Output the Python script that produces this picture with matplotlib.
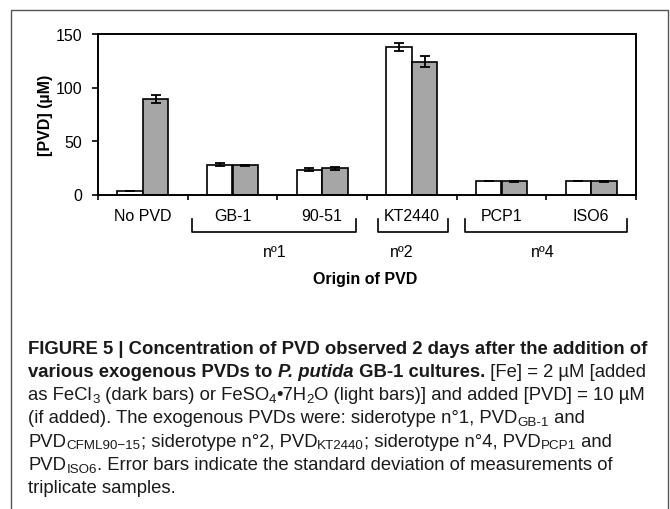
import matplotlib
matplotlib.use("Agg")
import matplotlib.pyplot as plt
import matplotlib.transforms as mtransforms
from matplotlib import font_manager
from matplotlib.lines import Line2D
import numpy as np

# data
categories = ["No PVD", "GB-1", "90-51", "KT2440", "PCP1", "ISO6"]
light_vals = [3.0, 27.8, 23.2, 137.8, 12.3, 12.3]      # FeSO4 (light bars)
light_err = [0.0, 1.3, 1.2, 3.5, 0.0, 0.0]
dark_vals = [89.3, 27.4, 24.6, 124.2, 12.3, 12.3]      # FeCl3 (dark bars)
dark_err = [3.8, 0.5, 1.5, 5.5, 0.3, 0.3]
y_ticks = [0, 50, 100, 150]

# bracket groups: (label, x from, x to, label x) in category units
groups = [("nº1", 0.545, 2.374, 1.47), ("nº2", 2.623, 3.403, 2.89), ("nº4", 3.593, 5.40, 4.46)]

W, H, DPI = 670, 510, 100
installed = {f.name for f in font_manager.fontManager.ttflist}
CHART_FONT = "Liberation Sans"
CAP_FONT = "Liberation Sans Narrow" if "Liberation Sans Narrow" in installed else "Liberation Sans"

fig = plt.figure(figsize=(W / DPI, H / DPI), dpi=DPI)
fig.patch.set_facecolor("white")

# outer frame (open at the bottom)
fx = lambda px: px / W
fy = lambda py: 1 - py / H
fig.add_artist(Line2D([fx(11), fx(11), fx(667.5), fx(667.5)], [fy(515), fy(11), fy(11), fy(515)],
                      transform=fig.transFigure, color="#555555", lw=1.0))

ax = fig.add_axes([fx(98), fy(195.5), (636 - 98) / W, (195.5 - 35) / H])

x = np.arange(len(categories))
bw = 0.285
ax.bar(x - bw / 2, light_vals, bw, color="white", edgecolor="black", linewidth=1.2, zorder=2)
ax.bar(x + bw / 2, dark_vals, bw, color="#a6a6a6", edgecolor="black", linewidth=1.2, zorder=2)
ekw = dict(fmt="none", ecolor="black", elinewidth=1.3, capsize=3.5, capthick=1.3, zorder=3)
ax.errorbar(x - bw / 2, light_vals, yerr=light_err, **ekw)
ax.errorbar(x + bw / 2, dark_vals, yerr=dark_err, **ekw)

ax.set_xlim(-0.5, len(categories) - 0.5)
ax.set_ylim(0, 150)
ax.set_yticks(y_ticks)
ax.set_yticklabels([str(v) for v in y_ticks], fontsize=11.5, family=CHART_FONT)
ax.set_xticks(np.arange(len(categories) + 1) - 0.5)
ax.set_xticklabels([])
ax.tick_params(axis="y", direction="out", length=4.5, width=1.2, pad=7)
ax.tick_params(axis="x", direction="out", length=3.5, width=1.2)
for s in ax.spines.values():
    s.set_linewidth(1.4)

tr = mtransforms.blended_transform_factory(ax.transData, ax.transAxes)
for i, c in enumerate(categories):
    ax.text(i, -0.132, c, transform=tr, ha="center", va="center", fontsize=11.5, family=CHART_FONT)

for lab, x0, x1, xl in groups:
    ax.add_line(Line2D([x0, x0, x1, x1], [-0.153, -0.232, -0.232, -0.153], transform=tr,
                       color="black", lw=1.2, clip_on=False))
    ax.text(xl, -0.358, lab, transform=tr, ha="center", va="center", fontsize=11.5, family=CHART_FONT)

ax.text(2.48, -0.526, "Origin of PVD", transform=tr, ha="center", va="center",
        fontsize=11.5, fontweight="bold", family=CHART_FONT)
ax.set_ylabel("[PVD] (µM)", fontsize=11.5, fontweight="bold", family=CHART_FONT, labelpad=2)

# caption, drawn run by run
styles = {
    "b": dict(fontweight="bold"),
    "bi": dict(fontweight="bold", fontstyle="italic"),
    "r": dict(),
    "s": dict(sub=True),
}
cap_lines = [
    [("FIGURE 5 | Concentration of PVD observed 2 days after the addition of", "b")],
    [("various exogenous PVDs to ", "b"), ("P. putida", "bi"), (" GB-1 cultures.", "b"),
     (" [Fe] = 2 µM [added", "r")],
    [("as FeCl", "r"), ("3", "s"), (" (dark bars) or FeSO", "r"), ("4", "s"), ("•7H", "r"),
     ("2", "s"), ("O (light bars)] and added [PVD] = 10 µM", "r")],
    [("(if added). The exogenous PVDs were: siderotype n°1, PVD", "r"), ("GB-1", "s"), (" and", "r")],
    [("PVD", "r"), ("CFML90−15", "s"), ("; siderotype n°2, PVD", "r"), ("KT2440", "s"),
     ("; siderotype n°4, PVD", "r"), ("PCP1", "s"), (" and", "r")],
    [("PVD", "r"), ("ISO6", "s"), (". Error bars indicate the standard deviation of measurements of", "r")],
    [("triplicate samples.", "r")],
]

renderer = fig.canvas.get_renderer()


def draw_caption(size, x_start=28.5, y_first=349, line_gap=23.3):
    arts, widths = [], []
    for n, runs in enumerate(cap_lines):
        xp = x_start
        yp = y_first + n * line_gap
        for s, st in runs:
            kw = dict(styles[st])
            fs, dy = size, 0
            if kw.pop("sub", False):
                fs, dy = size * 0.72, size * 0.3
            t = fig.text(fx(xp), fy(yp + dy), s, fontsize=fs, family=[CAP_FONT, "DejaVu Sans"],
                         va="center", ha="left", color="#1a1a1a", **kw)
            arts.append(t)
            xp += t.get_window_extent(renderer).width
        widths.append(xp - x_start)
    return arts, widths


# size the caption so that its widest line fits inside the frame
trial, widths = draw_caption(10.0)
for t in trial:
    t.remove()
cap_size = 10.0 * min(622.0 / max(widths), 624.0 / widths[0])
draw_caption(cap_size)

fig.savefig("out.png", dpi=DPI)
